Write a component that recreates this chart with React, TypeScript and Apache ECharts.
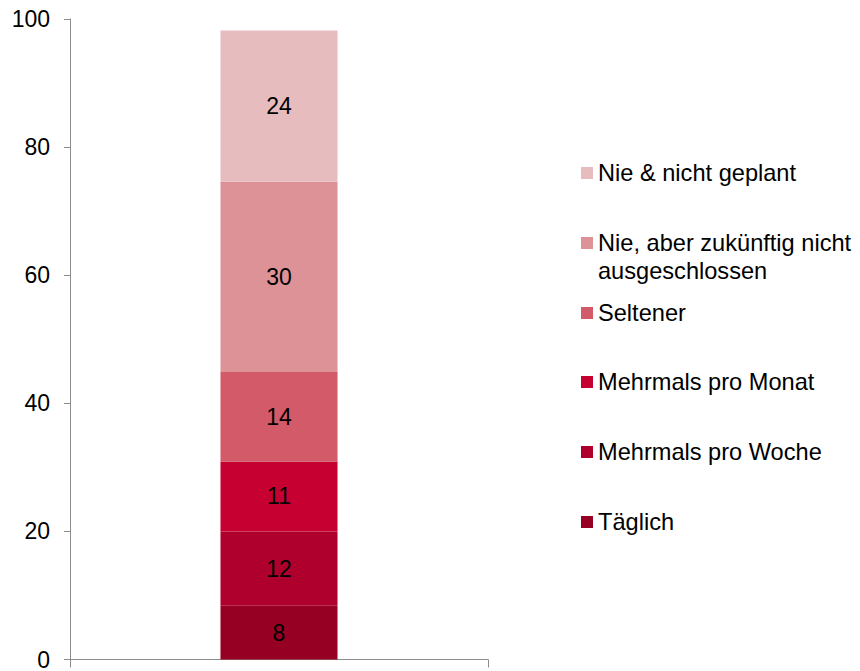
import React, { useEffect, useRef } from "react";
import * as echarts from "echarts";

const categories = ["Gesamt"];
const seriesNames = [
  "Täglich",
  "Mehrmals pro Woche",
  "Mehrmals pro Monat",
  "Seltener",
  "Nie, aber zukünftig nicht\nausgeschlossen",
  "Nie & nicht geplant",
];
const seriesValues = [8.4, 11.6, 10.9, 14.0, 29.7, 23.6];
const seriesColors = ["#960022", "#AF002D", "#C70032", "#D35A69", "#DD9297", "#E7BCBE"];
const yTicks = { min: 0, max: 100, interval: 20 };

const FONT = "'Liberation Sans', Arial, sans-serif";
// legend icon centre y positions (layout)
const legendCenters = [522, 452, 382, 313, 243, 173];

export default function App() {
  const ref = useRef<HTMLDivElement>(null);
  useEffect(() => {
    if (!ref.current) return;
    const chart = echarts.init(ref.current, undefined, { renderer: "svg" });
    const series = seriesNames.map((name, i) => ({
      name,
      type: "bar",
      stack: "total",
      barWidth: "28%",
      data: categories.map(() => seriesValues[i]),
      itemStyle: { color: seriesColors[i] },
      label: {
        show: true,
        position: "inside",
        color: "#000",
        fontSize: 23,
        fontFamily: FONT,
        formatter: (p: any) => String(Math.round(p.value)),
      },
    }));
    const legends = seriesNames.map((name, i) => {
      const twoLine = name.includes("\n");
      return {
        show: true,
        data: [name],
        orient: "vertical",
        left: 581,
        top: twoLine ? legendCenters[i] - 42 : legendCenters[i] - 14,
        icon: "rect",
        itemWidth: 12,
        itemHeight: 12,
        selectedMode: false,
        padding: 0,
        formatter: twoLine ? (n: string) => "\n" + n : undefined,
        textStyle: {
          color: "#000",
          fontSize: 23.6,
          fontFamily: FONT,
          lineHeight: 28,
        },
      };
    });
    chart.setOption({
      animation: false,
      backgroundColor: "#fff",
      grid: { left: 70, top: 19, right: 372, bottom: 8.5, containLabel: false },
      legend: legends,
      xAxis: {
        type: "category",
        data: categories,
        boundaryGap: true,
        axisLine: { show: true, lineStyle: { color: "#8c8c8c", width: 1 } },
        axisTick: { show: true, length: 8, lineStyle: { color: "#8c8c8c" } },
        axisLabel: { show: false },
      },
      yAxis: {
        type: "value",
        min: yTicks.min,
        max: yTicks.max,
        interval: yTicks.interval,
        splitLine: { show: false },
        axisLine: { show: true, lineStyle: { color: "#8c8c8c", width: 1 } },
        axisTick: { show: true, length: 6, lineStyle: { color: "#8c8c8c" } },
        axisLabel: { color: "#000", fontSize: 23, fontFamily: FONT, margin: 20 },
      },
      series,
    });
    return () => chart.dispose();
  }, []);
  return (
    <div
      ref={ref}
      style={{ position: "absolute", left: 0, top: 0, width: 860, height: 671 }}
    />
  );
}
